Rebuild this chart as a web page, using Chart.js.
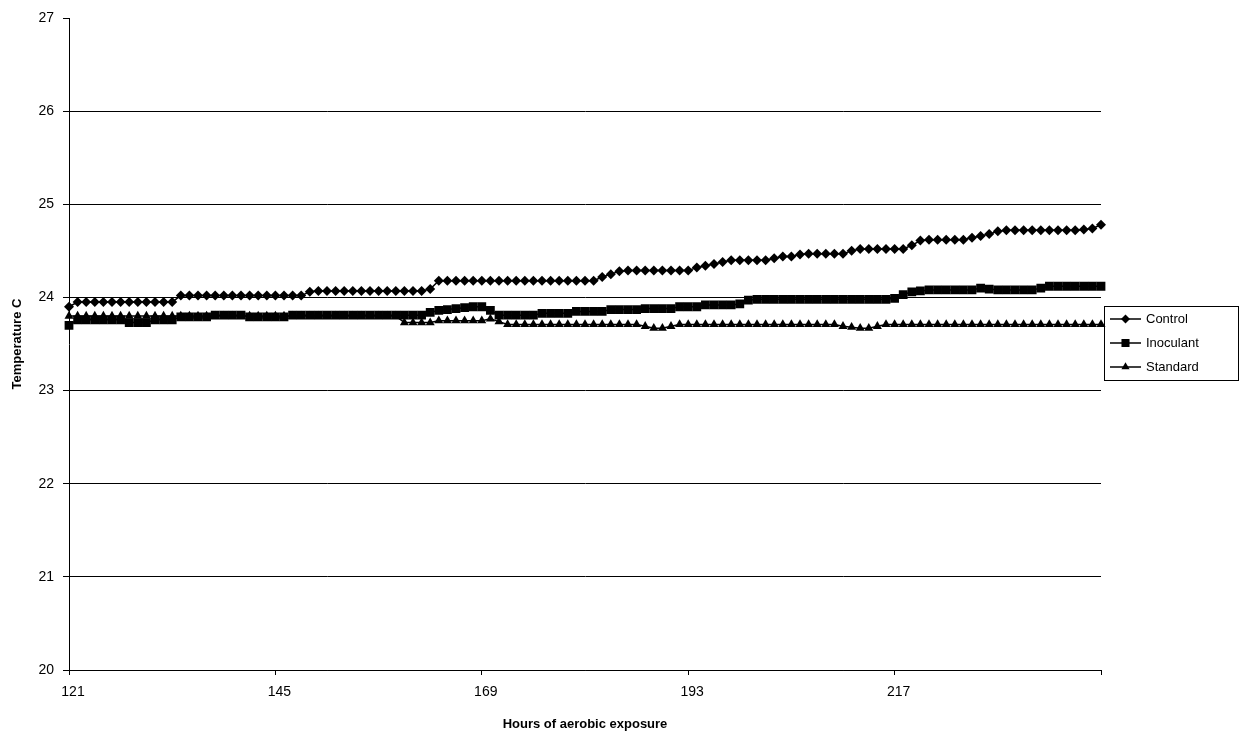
<!DOCTYPE html>
<html>
<head>
<meta charset="utf-8">
<script src="https://cdn.jsdelivr.net/npm/chart.js@4/dist/chart.umd.min.js"></script>
<style>
  body { margin: 0; background: #fff; }
</style>
</head>
<body>
<canvas id="myChart" width="1240" height="734"></canvas>
<script>
// hours of aerobic exposure (one reading per hour)
var hours = [121, 122, 123, 124, 125, 126, 127, 128, 129, 130, 131, 132, 133, 134, 135, 136, 137, 138, 139, 140,
    141, 142, 143, 144, 145, 146, 147, 148, 149, 150, 151, 152, 153, 154, 155, 156, 157, 158, 159, 160,
    161, 162, 163, 164, 165, 166, 167, 168, 169, 170, 171, 172, 173, 174, 175, 176, 177, 178, 179, 180,
    181, 182, 183, 184, 185, 186, 187, 188, 189, 190, 191, 192, 193, 194, 195, 196, 197, 198, 199, 200,
    201, 202, 203, 204, 205, 206, 207, 208, 209, 210, 211, 212, 213, 214, 215, 216, 217, 218, 219, 220,
    221, 222, 223, 224, 225, 226, 227, 228, 229, 230, 231, 232, 233, 234, 235, 236, 237, 238, 239, 240, 241];

var control = [23.90,
    23.95, 23.95, 23.95, 23.95, 23.95, 23.95, 23.95, 23.95, 23.95, 23.95, 23.95, 23.95,
    24.02, 24.02, 24.02, 24.02, 24.02, 24.02, 24.02, 24.02, 24.02, 24.02, 24.02, 24.02, 24.02, 24.02, 24.02,
    24.06,
    24.07, 24.07, 24.07, 24.07, 24.07, 24.07, 24.07, 24.07, 24.07, 24.07, 24.07, 24.07, 24.07,
    24.09,
    24.18, 24.18, 24.18, 24.18, 24.18, 24.18, 24.18, 24.18, 24.18, 24.18, 24.18, 24.18, 24.18, 24.18, 24.18, 24.18, 24.18, 24.18, 24.18,
    24.22, 24.25, 24.28,
    24.29, 24.29, 24.29, 24.29, 24.29, 24.29, 24.29, 24.29,
    24.32, 24.34, 24.36, 24.38,
    24.40, 24.40, 24.40, 24.40, 24.40,
    24.42, 24.44, 24.44, 24.46,
    24.47, 24.47, 24.47, 24.47, 24.47,
    24.50,
    24.52, 24.52, 24.52, 24.52, 24.52, 24.52,
    24.56, 24.61,
    24.62, 24.62, 24.62, 24.62, 24.62,
    24.64, 24.66, 24.68, 24.71,
    24.72, 24.72, 24.72, 24.72, 24.72, 24.72, 24.72, 24.72, 24.72,
    24.73, 24.74, 24.78];

var inoculant = [23.70,
    23.76, 23.76, 23.76, 23.76, 23.76, 23.76,
    23.73, 23.73, 23.73,
    23.76, 23.76, 23.76,
    23.79, 23.79, 23.79, 23.79,
    23.81, 23.81, 23.81, 23.81,
    23.79, 23.79, 23.79, 23.79, 23.79,
    23.81, 23.81, 23.81, 23.81, 23.81, 23.81, 23.81, 23.81, 23.81, 23.81, 23.81, 23.81, 23.81, 23.81, 23.81, 23.81,
    23.84, 23.86, 23.87, 23.88, 23.89, 23.90, 23.90, 23.86,
    23.81, 23.81, 23.81, 23.81, 23.81,
    23.83, 23.83, 23.83, 23.83,
    23.85, 23.85, 23.85, 23.85,
    23.87, 23.87, 23.87, 23.87,
    23.88, 23.88, 23.88, 23.88,
    23.90, 23.90, 23.90,
    23.92, 23.92, 23.92, 23.92,
    23.93, 23.97,
    23.98, 23.98, 23.98, 23.98, 23.98, 23.98, 23.98, 23.98, 23.98, 23.98, 23.98, 23.98, 23.98, 23.98, 23.98, 23.98,
    23.99, 24.03, 24.06, 24.07,
    24.08, 24.08, 24.08, 24.08, 24.08, 24.08,
    24.10, 24.09,
    24.08, 24.08, 24.08, 24.08, 24.08,
    24.10,
    24.12, 24.12, 24.12, 24.12, 24.12, 24.12, 24.12];

var standard = [
    23.80, 23.80, 23.80, 23.80, 23.80, 23.80, 23.80, 23.80, 23.80, 23.80, 23.80, 23.80, 23.80,
    23.80, 23.80, 23.80, 23.80, 23.80, 23.80, 23.80, 23.80, 23.80, 23.80, 23.80, 23.80, 23.80,
    23.80, 23.80, 23.80, 23.80, 23.80, 23.80, 23.80, 23.80, 23.80, 23.80, 23.80, 23.80, 23.80,
    23.73, 23.73, 23.73, 23.73,
    23.75, 23.75, 23.75, 23.75, 23.75, 23.75,
    23.77, 23.74,
    23.71, 23.71, 23.71, 23.71, 23.71, 23.71, 23.71, 23.71, 23.71, 23.71, 23.71, 23.71, 23.71, 23.71, 23.71, 23.71,
    23.69, 23.67, 23.67, 23.69,
    23.71, 23.71, 23.71, 23.71, 23.71, 23.71, 23.71, 23.71, 23.71, 23.71, 23.71, 23.71, 23.71, 23.71, 23.71, 23.71, 23.71, 23.71, 23.71,
    23.69, 23.68, 23.67, 23.67, 23.69,
    23.71, 23.71, 23.71, 23.71, 23.71, 23.71, 23.71, 23.71, 23.71, 23.71, 23.71, 23.71, 23.71,
    23.71, 23.71, 23.71, 23.71, 23.71, 23.71, 23.71, 23.71, 23.71, 23.71, 23.71, 23.71, 23.71];

var seriesNames = ['Control', 'Inoculant', 'Standard'];
var FONT = '"Liberation Sans", Arial, sans-serif';

function marker(ctx, style, r, x, y) {
    ctx.beginPath();
    if (style === 'rectRot') {
        ctx.moveTo(x - r, y); ctx.lineTo(x, y - r); ctx.lineTo(x + r, y); ctx.lineTo(x, y + r);
    } else if (style === 'rect') {
        var s = r * Math.SQRT1_2;
        ctx.rect(x - s, y - s, 2 * s, 2 * s);
    } else {
        ctx.moveTo(x, y - r);
        ctx.lineTo(x + r * 0.866, y + r * 0.5);
        ctx.lineTo(x - r * 0.866, y + r * 0.5);
    }
    ctx.closePath();
    ctx.fill();
}

// legend in a box, Excel style
var boxLegend = {
    id: 'boxLegend',
    afterDraw: function(chart) {
        var ctx = chart.ctx;
        ctx.save();
        ctx.strokeStyle = '#000';
        ctx.fillStyle = '#000';
        ctx.lineWidth = 1;
        ctx.strokeRect(1104.5, 306.5, 134, 74);
        ctx.font = '13px ' + FONT;
        ctx.textBaseline = 'middle';
        chart.data.datasets.forEach(function(ds, i) {
            var y = 319 + i * 24;
            ctx.lineWidth = 1.5;
            ctx.beginPath();
            ctx.moveTo(1110, y);
            ctx.lineTo(1141, y);
            ctx.stroke();
            marker(ctx, ds.pointStyle, ds.pointRadius - 0.5, 1125.5, y);
            ctx.fillText(ds.label, 1146, y);
        });
        ctx.restore();
    }
};

function series(label, values, style, radius, order) {
    return {
        label: label,
        data: values,
        borderColor: '#000',
        backgroundColor: '#000',
        borderWidth: 1.5,
        pointStyle: style,
        pointRadius: radius,
        pointBorderWidth: 0,
        pointBackgroundColor: '#000',
        lineTension: 0,
        order: order
    };
}

var ctx = document.getElementById('myChart').getContext('2d');
var chart = new Chart(ctx, {
    type: 'line',
    data: {
        labels: hours,
        datasets: [
            series(seriesNames[0], control, 'rectRot', 5, 3),
            series(seriesNames[1], inoculant, 'rect', 6.2, 2),
            series(seriesNames[2], standard, 'triangle', 5.2, 1)
        ]
    },
    plugins: [boxLegend],
    options: {
        responsive: false,
        animation: false,
        layout: { padding: { top: 18, right: 139, left: 0, bottom: 0 } },
        plugins: {
            legend: { display: false },
            tooltip: { enabled: false }
        },
        scales: {
            x: {
                type: 'category',
                offset: false,
                border: { display: true, color: '#000', width: 1 },
                grid: {
                    drawOnChartArea: false,
                    drawTicks: true,
                    tickLength: 5,
                    tickColor: function(c) { return c.index % 24 === 0 ? '#000' : 'rgba(0,0,0,0)'; }
                },
                ticks: {
                    autoSkip: false,
                    maxRotation: 0,
                    padding: 9,
                    labelOffset: 4,
                    color: '#000',
                    font: { family: FONT, size: 14 },
                    callback: function(val, idx) {
                        return (idx % 24 === 0 && idx < 120) ? this.getLabelForValue(val) : '';
                    }
                },
                title: {
                    display: true,
                    text: 'Hours of aerobic exposure',
                    color: '#000',
                    font: { family: FONT, size: 13, weight: 'bold' },
                    padding: { top: 0, bottom: 2 }
                },
                afterFit: function(scale) { scale.height = 64; }
            },
            y: {
                min: 20,
                max: 27,
                border: { display: true, color: '#000', width: 1 },
                grid: {
                    color: function(c) { return c.tick && c.tick.value === 27 ? 'rgba(0,0,0,0)' : '#000'; },
                    tickColor: '#000',
                    tickLength: 6,
                    lineWidth: 1
                },
                ticks: {
                    stepSize: 1,
                    padding: 9,
                    color: '#000',
                    font: { family: FONT, size: 14 }
                },
                title: {
                    display: true,
                    text: 'Temperature C',
                    color: '#000',
                    font: { family: FONT, size: 13, weight: 'bold' },
                    padding: { top: 10, bottom: 0 }
                },
                afterFit: function(scale) { scale.width = 69; }
            }
        }
    }
});
</script>
</body>
</html>
